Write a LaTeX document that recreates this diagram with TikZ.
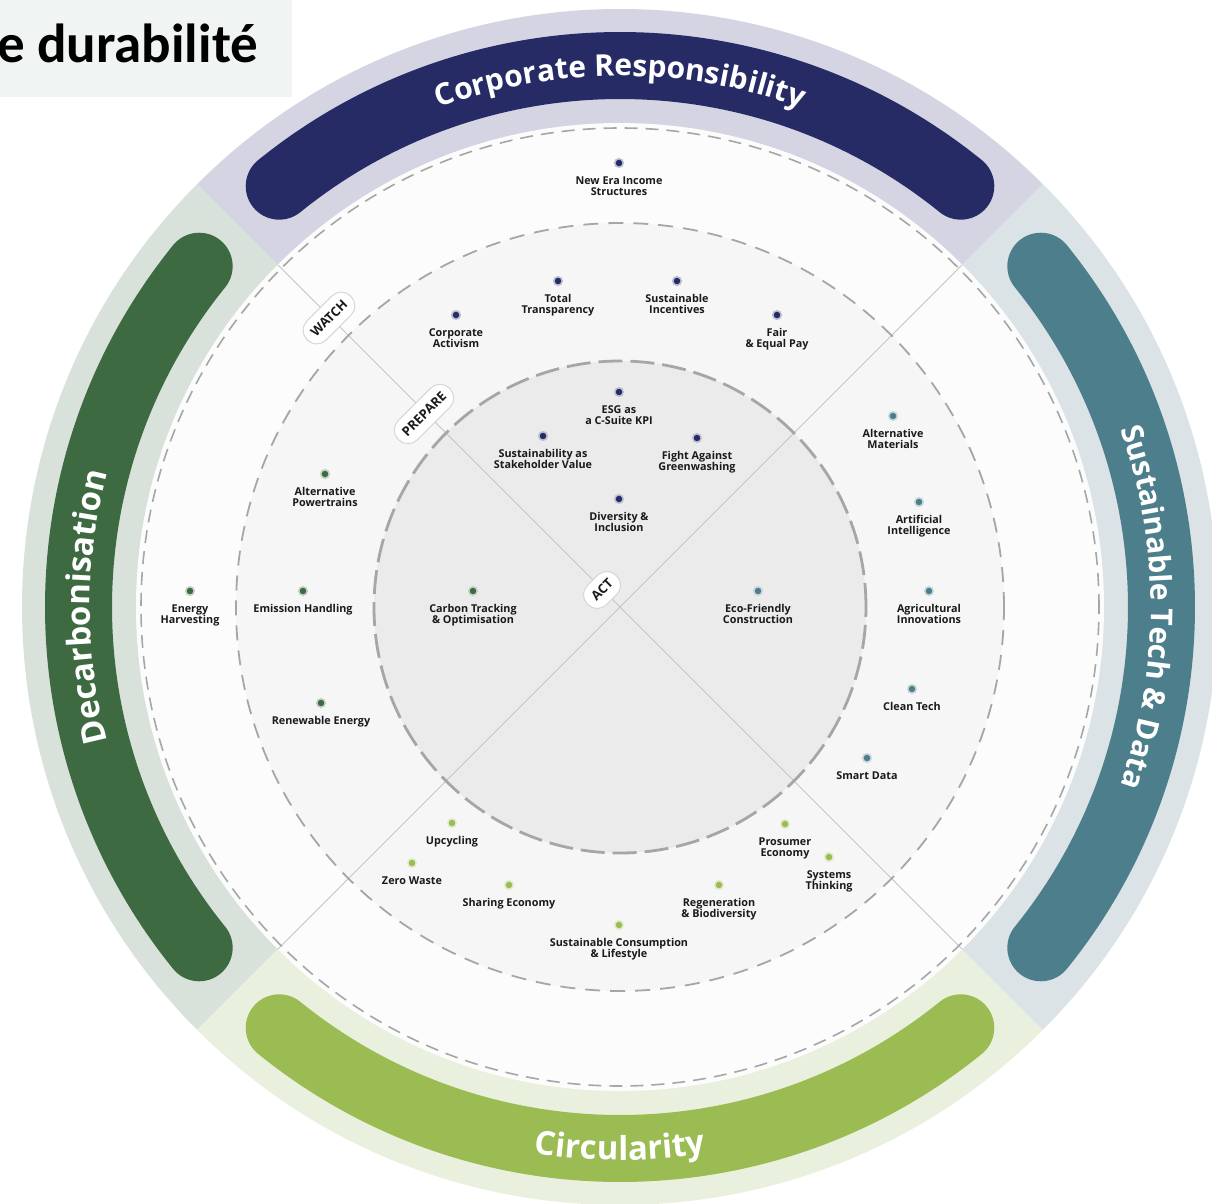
\documentclass[tikz,border=0pt]{standalone}
\usepackage{fontspec}
\setmainfont{Open Sans}
\newfontfamily\titlefont{Carlito}
\usetikzlibrary{decorations.text}
\definecolor{navy}{HTML}{262B66}
\definecolor{teal}{HTML}{4D7E8B}
\definecolor{dkgreen}{HTML}{3D6A40}
\definecolor{ltgreen}{HTML}{9BBB53}
\definecolor{bandtop}{HTML}{D4D4E2}
\definecolor{bandright}{HTML}{DBE3E6}
\definecolor{bandbottom}{HTML}{EAF0DE}
\definecolor{bandleft}{HTML}{D8E2DB}
\definecolor{titlebg}{HTML}{F0F5F4}
\definecolor{watchbg}{HTML}{FCFCFC}
\definecolor{prepbg}{HTML}{F6F6F6}
\definecolor{actbg}{HTML}{EBEBEB}
\definecolor{dashgrey}{HTML}{A6A6A6}
\definecolor{axisgrey}{HTML}{C4C4C4}
\definecolor{txt}{HTML}{1A1A1A}
\newcommand\bandfont{\fontsize{30}{32}\selectfont\bfseries}
\newcommand\bandfontbig{\fontsize{33}{35}\selectfont\bfseries}
\newcommand\radaritem[5]{%
  \node[dot=#2] (#1) at (#3,#4) {};
  \node[lab] (#1-t) at ([yshift=-13.5]#1.center) {#5};}
\tikzset{
  dot/.style={circle, fill=#1, draw=#1!30, line width=1.6, minimum size=8.5, inner sep=0},
  lab/.style={font=\bfseries\fontsize{10.8}{11}\selectfont, align=center, inner sep=0, anchor=north, text=txt},
  stagebox/.style={draw=black!16, fill=white, rounded corners=13, minimum height=27,
    inner xsep=8, inner ysep=0, line width=1, rotate=45,
    font=\bfseries\fontsize{13}{14}\selectfont, text=txt},
  darkband/.style={line width=67, line cap=round},
  axisline/.style={draw=axisgrey, line width=0.8},
  bandtext/.style={decorate, decoration={text along path, text align=center, text color=white, text={|\bandfont|#1}}},
  bandtextbig/.style={decorate, decoration={text along path, text align=center, text color=white, text={|\bandfontbig|#1}}}
}
\begin{document}
\begin{tikzpicture}[x=1pt,y=1pt]
\useasboundingbox (-620,-596) rectangle (592,607);
\fill[white] (-620,-596) rectangle (592,607);
% title
\fill[titlebg] (-620,607) rectangle (-328,510);
\node[anchor=base west, inner sep=0, font=\titlefont\bfseries\fontsize{55}{60}\selectfont, text=black] (title) at (-623,544) {e durabilité};
% outer quadrant bands
\fill[bandtop] (0,0) -- (45:598) arc[start angle=45, end angle=135, radius=598] -- cycle;
\fill[bandleft] (0,0) -- (135:598) arc[start angle=135, end angle=225, radius=598] -- cycle;
\fill[bandbottom] (0,0) -- (225:598) arc[start angle=225, end angle=315, radius=598] -- cycle;
\fill[bandright] (0,0) -- (315:598) arc[start angle=315, end angle=405, radius=598] -- cycle;
% rings
\fill[watchbg] (0,0) circle[radius=484];
\fill[prepbg] (0,0) circle[radius=384];
\fill[actbg] (0,0) circle[radius=246];
% axes
\coordinate (c) at (0,0);
\coordinate (a1) at (45:484);
\coordinate (a2) at (135:484);
\coordinate (a3) at (225:484);
\coordinate (a4) at (315:484);
\draw[axisline] (a1) -- (a3);
\draw[axisline] (a2) -- (a4);
% dashed circles
\draw[dashgrey, line width=1.6, dash pattern=on 13 off 8] (0,0) circle[radius=479];
\draw[dashgrey, line width=1.8, dash pattern=on 15 off 10] (0,0) circle[radius=384];
\draw[dashgrey, line width=2.8, dash pattern=on 24 off 8] (0,0) circle[radius=246];
% dark bands
\draw[darkband, navy] (51:541.5) arc[start angle=51, end angle=129, radius=541.5];
\draw[darkband, dkgreen] (141:541.5) arc[start angle=141, end angle=219, radius=541.5];
\draw[darkband, ltgreen] (231:541.5) arc[start angle=231, end angle=309, radius=541.5];
\draw[darkband, teal] (-39:541.5) arc[start angle=-39, end angle=39, radius=541.5];
% band texts
\path[bandtext={Corporate Responsibility}] (129:531) arc[start angle=129, end angle=51, radius=531];
\path[bandtext={Sustainable Tech {\&} Data}] (39:531) arc[start angle=39, end angle=-39, radius=531];
\path[bandtextbig={Decarbonisation}] (219:530) arc[start angle=219, end angle=141, radius=530];
\path[bandtextbig={Circularity}] (231:553) arc[start angle=231, end angle=309, radius=553];
% items: corporate responsibility
\radaritem{ner}{navy}{-1}{444}{New Era Income\\Structures}
\radaritem{tt}{navy}{-62}{326}{Total\\Transparency}
\radaritem{si}{navy}{57}{326}{Sustainable\\Incentives}
\radaritem{ca}{navy}{-164}{292}{Corporate\\Activism}
\radaritem{fep}{navy}{157}{292}{Fair\\\& Equal Pay}
\radaritem{esg}{navy}{-1}{215}{ESG as\\a C-Suite KPI}
\radaritem{ssv}{navy}{-77}{171}{Sustainability as\\Stakeholder Value}
\radaritem{fag}{navy}{77}{169}{Fight Against\\Greenwashing}
\radaritem{di}{navy}{-1}{108}{Diversity \&\\Inclusion}
% sustainable tech & data
\radaritem{am}{teal}{273}{191}{Alternative\\Materials}
\radaritem{ai}{teal}{299}{105}{Artificial\\Intelligence}
\radaritem{agi}{teal}{309}{16}{Agricultural\\Innovations}
\radaritem{ct}{teal}{292}{-82}{Clean Tech}
\radaritem{sd}{teal}{247}{-151}{Smart Data}
\radaritem{efc}{teal}{138}{16}{Eco-Friendly\\Construction}
% decarbonisation
\radaritem{ap}{dkgreen}{-295}{133}{Alternative\\Powertrains}
\radaritem{eh}{dkgreen}{-430}{16}{Energy\\Harvesting}
\radaritem{emh}{dkgreen}{-317}{16}{Emission Handling}
\radaritem{re}{dkgreen}{-299}{-96}{Renewable Energy}
\radaritem{cto}{dkgreen}{-147}{16}{Carbon Tracking\\\& Optimisation}
% circularity
\radaritem{up}{ltgreen}{-168}{-216}{Upcycling}
\radaritem{zw}{ltgreen}{-208}{-256}{Zero Waste}
\radaritem{se}{ltgreen}{-111}{-278}{Sharing Economy}
\radaritem{scl}{ltgreen}{-1}{-318}{Sustainable Consumption\\\& Lifestyle}
\radaritem{rb}{ltgreen}{99}{-278}{Regeneration\\\& Biodiversity}
\radaritem{pe}{ltgreen}{165}{-217}{Prosumer\\Economy}
\radaritem{st}{ltgreen}{209}{-250}{Systems\\Thinking}
% stage labels
\node[stagebox] (act) at (-18,17) {ACT};
\node[stagebox] (prepare) at (-196,193) {PREPARE};
\node[stagebox] (watch) at (-291,289) {WATCH};
\end{tikzpicture}
\end{document}
